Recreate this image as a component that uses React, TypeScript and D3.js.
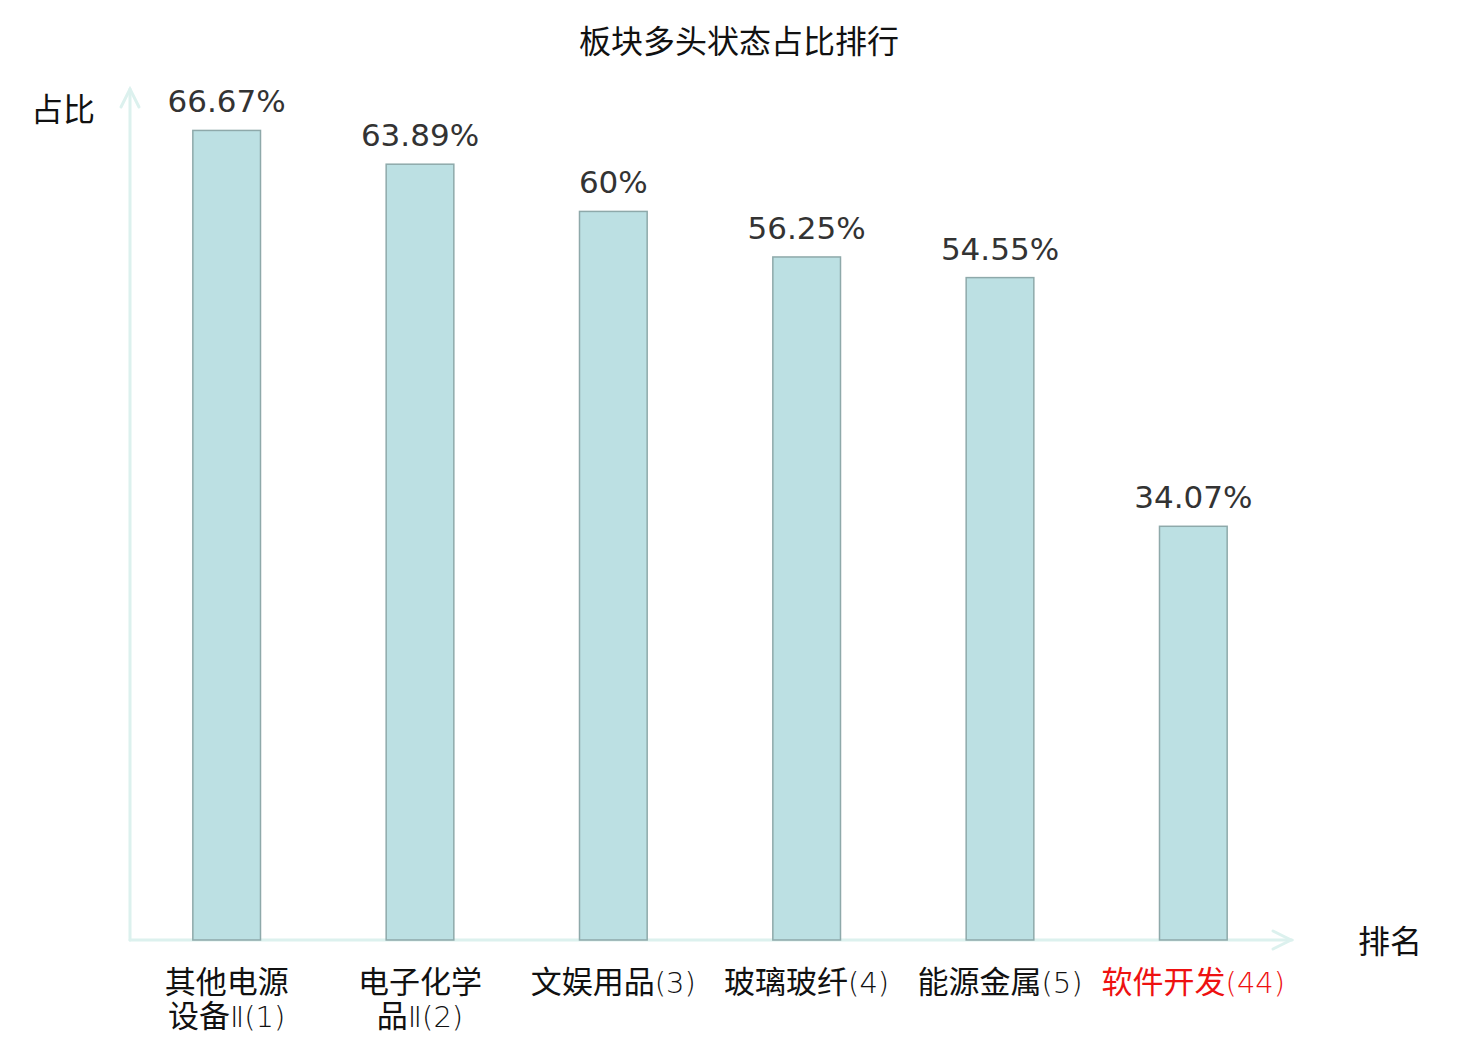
import React, { useRef, useEffect } from 'react';
import * as d3 from 'd3';

// chart data
const names = ['其他电源设备', '电子化学品', '文娱用品', '玻璃玻纤', '能源金属', '软件开发'];
const nameSuffix = ['Ⅱ', 'Ⅱ', '', '', '', ''];
const ranks = [1, 2, 3, 4, 5, 44];
const ratios = [66.67, 63.89, 60, 56.25, 54.55, 34.07];
const valueLabels = ['66.67%', '63.89%', '60%', '56.25%', '54.55%', '34.07%'];

const W = 1480;
const H = 1040;
const margin = { top: 90, right: 190, bottom: 100, left: 130 };

const BarChart: React.FC = () => {
  const svgRef = useRef<SVGSVGElement>(null);

  useEffect(() => {
    if (!svgRef.current) return;
    const svg = d3.select(svgRef.current);
    svg.selectAll('*').remove();

    const x0 = margin.left;
    const x1 = W - margin.right;
    const yBase = H - margin.bottom;

    const x = d3.scaleBand<number>()
      .domain(d3.range(names.length))
      .range([x0, x1])
      .paddingInner(0.65)
      .paddingOuter(0.325);

    const y = d3.scaleLinear().domain([0, 70]).range([yBase, margin.top]);

    const axisColor = '#dcf1ee';

    // title
    svg.append('text')
      .attr('x', 739)
      .attr('y', 53)
      .attr('text-anchor', 'middle')
      .attr('font-size', 32)
      .attr('fill', '#111')
      .text('板块多头状态占比排行');

    // axes with arrows
    const axes = svg.append('g')
      .attr('stroke', axisColor)
      .attr('stroke-width', 3)
      .attr('fill', 'none')
      .attr('stroke-linecap', 'round');
    axes.append('line').attr('x1', x0).attr('x2', x0).attr('y1', yBase).attr('y2', margin.top - 1);
    axes.append('path').attr('d', `M${x0 - 9},${margin.top + 17}L${x0},${margin.top - 1}L${x0 + 9},${margin.top + 17}`);
    axes.append('line').attr('x1', x0).attr('x2', x1 + 2).attr('y1', yBase).attr('y2', yBase);
    axes.append('path').attr('d', `M${x1 - 17},${yBase - 9}L${x1 + 1},${yBase}L${x1 - 17},${yBase + 9}`);

    // axis names
    svg.append('text')
      .attr('x', 31).attr('y', 121)
      .attr('font-size', 32).attr('fill', '#111')
      .text('占比');
    svg.append('text')
      .attr('x', 1358).attr('y', 953)
      .attr('font-size', 32).attr('fill', '#111')
      .text('排名');

    // bars
    svg.append('g')
      .selectAll('rect')
      .data(ratios)
      .enter().append('rect')
      .attr('x', (_, i) => x(i)!)
      .attr('y', d => y(d))
      .attr('width', x.bandwidth())
      .attr('height', d => yBase - y(d))
      .attr('fill', '#bce0e3')
      .attr('stroke', '#8ea9aa')
      .attr('stroke-width', 1.5);

    // value labels
    svg.append('g')
      .selectAll('text')
      .data(ratios)
      .enter().append('text')
      .attr('x', (_, i) => x(i)! + x.bandwidth() / 2)
      .attr('y', d => y(d) - 18)
      .attr('text-anchor', 'middle')
      .attr('font-family', 'DejaVu Sans')
      .attr('font-size', 31)
      .attr('fill', '#333')
      .text((_, i) => valueLabels[i]);

    // category labels, long ones wrap after 4 characters
    const labels = svg.append('g')
      .selectAll('text')
      .data(names)
      .enter().append('text')
      .attr('x', (_, i) => x(i)! + x.bandwidth() / 2)
      .attr('y', 993)
      .attr('text-anchor', 'middle')
      .attr('font-size', 31)
      .attr('fill', (_, i) => (i === names.length - 1 ? '#ee1111' : '#111'));

    labels.each(function (name, i) {
      const t = d3.select(this);
      const cx = x(i)! + x.bandwidth() / 2;
      const lines = nameSuffix[i] ? [name.slice(0, 4), name.slice(4)] : [name];
      lines.forEach((ln, li) => {
        const ts = t.append('tspan').attr('x', cx).attr('dy', li === 0 ? 0 : 34).text(ln);
        if (li === lines.length - 1) {
          ts.append('tspan')
            .attr('font-family', 'DejaVu Sans')
            .attr('font-weight', 200)
            .attr('font-size', 29)
            .text(`${nameSuffix[i]}(${ranks[i]})`);
        }
      });
    });
  }, []);

  return (
    <svg
      ref={svgRef}
      width={W}
      height={H}
      style={{
        position: 'absolute',
        left: 0,
        top: 0,
        display: 'block',
        fontFamily: '"Noto Sans CJK SC", "DejaVu Sans", sans-serif'
      }}
    />
  );
};

export default function App() {
  return <BarChart />;
}
